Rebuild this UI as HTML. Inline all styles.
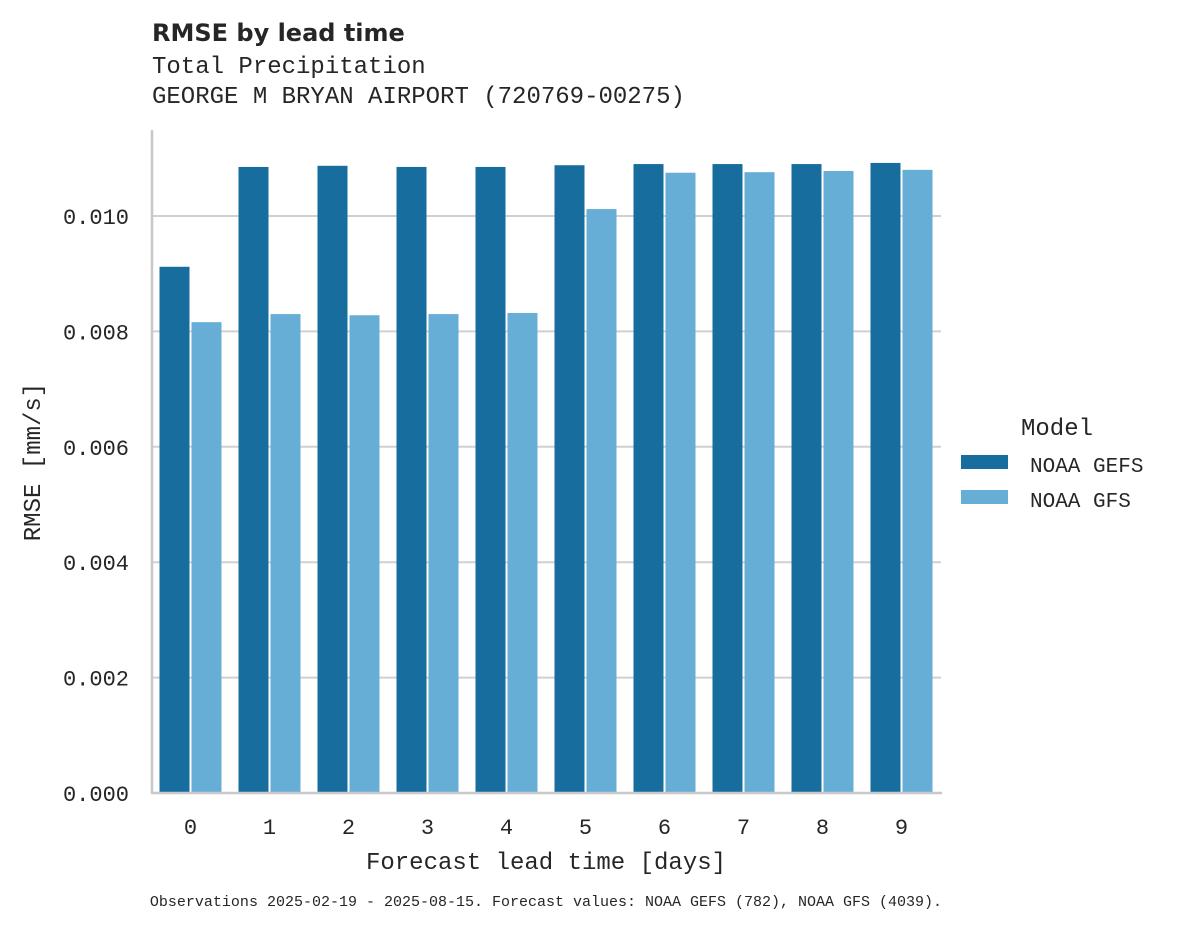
<!DOCTYPE html>
<html><head><meta charset="utf-8"><style>
body{margin:0;background:#fff;}
svg text{font-family:"Liberation Mono",monospace;fill:#262626;}
</style></head><body>
<svg width="1182" height="928" xmlns="http://www.w3.org/2000/svg">
<text x="152" y="41" style="font-family:'DejaVu Sans','Liberation Sans',sans-serif;font-weight:bold;font-size:24px">RMSE by lead time</text>
<text x="152" y="73" font-size="24">Total Precipitation</text>
<text x="152" y="103" font-size="24">GEORGE M BRYAN AIRPORT (720769-00275)</text>
<g id="grid"></g>
<g id="bars"></g>
<line x1="152" y1="130" x2="152" y2="794" stroke="#c8c8c8" stroke-width="2.5"/>
<line x1="151" y1="793" x2="942" y2="793" stroke="#c8c8c8" stroke-width="2.5"/>
<g id="labels"></g>
<text x="546" y="869" font-size="24" text-anchor="middle">Forecast lead time [days]</text>
<text transform="translate(40,462) rotate(-90)" font-size="24" text-anchor="middle">RMSE [mm/s]</text>
<g>
<text x="1021" y="435" font-size="24">Model</text>
<rect x="961" y="455" width="47" height="14" fill="#176e9e"/>
<text x="1030" y="472" font-size="21">NOAA GEFS</text>
<rect x="961" y="490" width="47" height="14" fill="#67aed6"/>
<text x="1030" y="507" font-size="21">NOAA GFS</text>
</g>
<text x="546" y="906" font-size="15" text-anchor="middle">Observations 2025-02-19 - 2025-08-15. Forecast values: NOAA GEFS (782), NOAA GFS (4039).</text>
</svg>
<script>
const categories=["0","1","2","3","4","5","6","7","8","9"];
const gefs=[0.00912,0.01085,0.01087,0.01085,0.01085,0.01088,0.0109,0.0109,0.0109,0.01092];
const gfs=[0.00816,0.0083,0.00828,0.0083,0.00832,0.01012,0.01075,0.01076,0.01078,0.0108];
const yTicks=[0,0.002,0.004,0.006,0.008,0.010];
const NS="http://www.w3.org/2000/svg";
const y0=793,pxPer=57700;
function yS(v){return y0-v*pxPer;}
const left=152,gw=79;
function xC(i){return left+gw*(i+0.5)-1;}
const grid=document.getElementById('grid'),bars=document.getElementById('bars'),labels=document.getElementById('labels');
yTicks.forEach(t=>{
 const l=document.createElementNS(NS,'line');
 
 
 l.setAttribute('x1',152);l.setAttribute('x2',941);l.setAttribute('y1',yS(t));l.setAttribute('y2',yS(t));
 l.setAttribute('stroke','#d0d0d0');l.setAttribute('stroke-width','2');grid.appendChild(l);
 const tx=document.createElementNS(NS,'text');
 
 
 tx.setAttribute('x',129);tx.setAttribute('y',yS(t)+8);tx.setAttribute('text-anchor','end');tx.setAttribute('font-size','22');
 tx.textContent=t.toFixed(3);labels.appendChild(tx);
});
function bar(x,v,c,name){
 const r=document.createElementNS(NS,'rect');
 
 
 r.setAttribute('x',x);r.setAttribute('y',yS(v));r.setAttribute('width',30);r.setAttribute('height',y0-yS(v));
 r.setAttribute('fill',c);bars.appendChild(r);
}
categories.forEach((c,i)=>{
 const cx=xC(i);
 bar(cx-31,gefs[i],'#176e9e','bar-gefs-'+c);
 bar(cx+1,gfs[i],'#67aed6','bar-gfs-'+c);
 const tx=document.createElementNS(NS,'text');
 
 
 tx.setAttribute('x',cx);tx.setAttribute('y',834);tx.setAttribute('text-anchor','middle');tx.setAttribute('font-size','22');
 tx.textContent=c;labels.appendChild(tx);
});
</script>
</body></html>
